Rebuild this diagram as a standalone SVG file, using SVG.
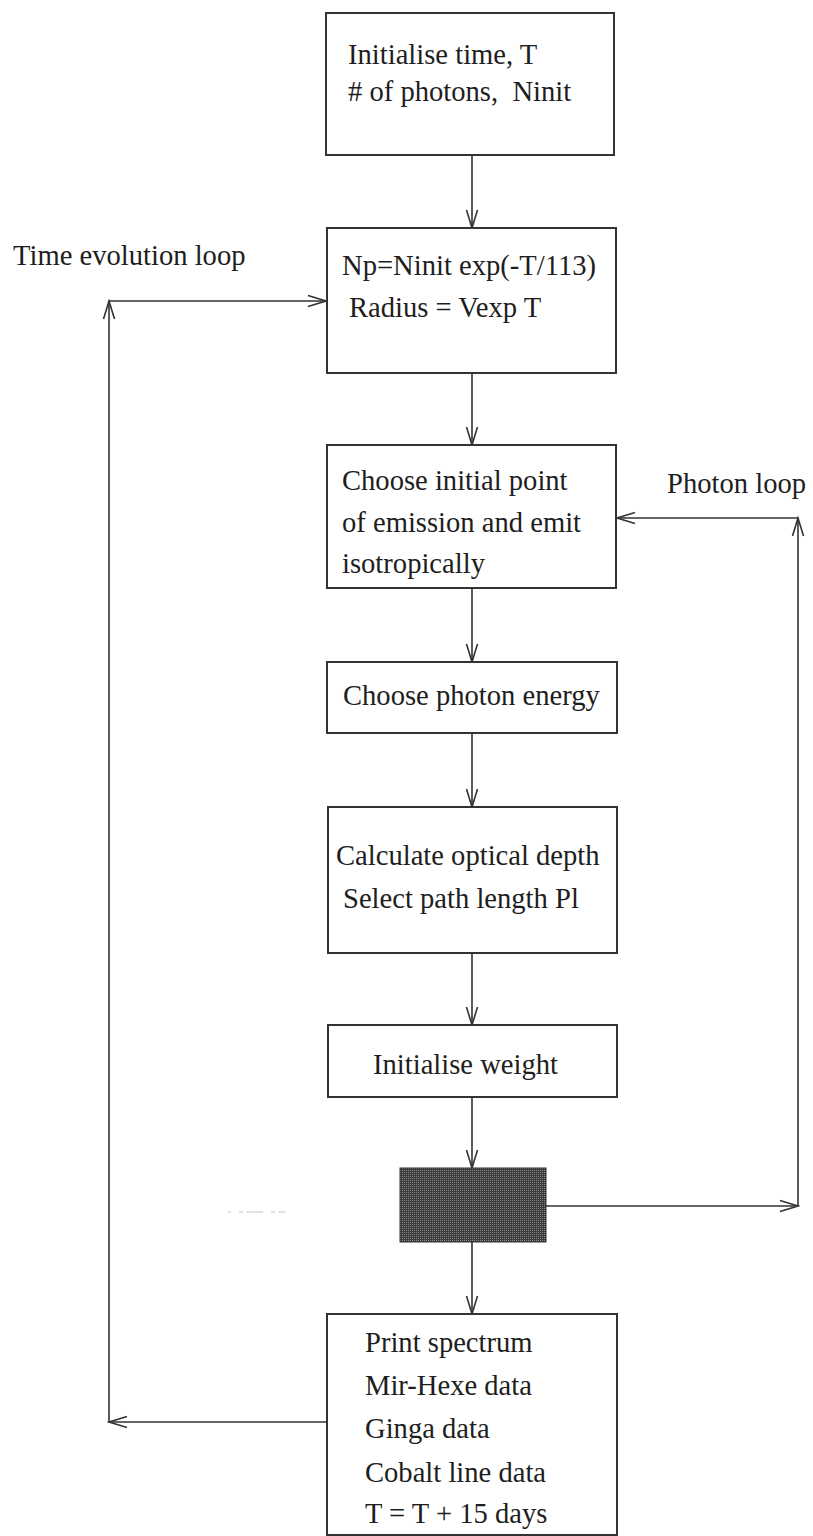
<svg xmlns="http://www.w3.org/2000/svg" width="813" height="1536" viewBox="0 0 813 1536">
<style>
  .box { fill: #ffffff; stroke: #333333; stroke-width: 2; }
  .t { font-family: "Liberation Serif", "Times New Roman", serif; font-size: 28.6px; fill: #1e1e1e; }
  .c { fill: none; stroke: #333333; stroke-width: 1.6; marker-end: url(#arr); }
  .p { fill: none; stroke: #333333; stroke-width: 1.6; }
</style>
<defs>
  <marker id="arr" viewBox="-20 -8 22 16" refX="0" refY="0" markerWidth="22" markerHeight="16" markerUnits="userSpaceOnUse" orient="auto">
    <path d="M-18,-5.5 L0,0 L-18,5.5" fill="none" stroke="#333333" stroke-width="1.6"/>
  </marker>
  <pattern id="dots" width="2" height="2" patternUnits="userSpaceOnUse">
    <rect width="2" height="2" fill="#3a3a3a"/>
    <rect width="1" height="1" fill="#8c8c8c"/>
  </pattern>
</defs>
<rect width="813" height="1536" fill="#ffffff"/>

<g id="connectors">
  <line class="c" x1="472" y1="155" x2="472" y2="228"/>
  <line class="c" x1="472" y1="373" x2="472" y2="445"/>
  <line class="c" x1="472" y1="588" x2="472" y2="662"/>
  <line class="c" x1="472" y1="733" x2="472" y2="807"/>
  <line class="c" x1="472" y1="953" x2="472" y2="1025"/>
  <line class="c" x1="472" y1="1097" x2="472" y2="1168"/>
  <line class="c" x1="472" y1="1242" x2="472" y2="1314"/>
  <line class="c" x1="546" y1="1206" x2="798" y2="1206"/>
  <line class="c" x1="798" y1="1206" x2="798" y2="518"/>
  <line class="c" x1="798" y1="518" x2="617" y2="518"/>
  <line class="c" x1="327" y1="1422" x2="109" y2="1422"/>
  <line class="c" x1="109" y1="1422" x2="109" y2="301"/>
  <line class="c" x1="109" y1="301" x2="326" y2="301"/>
</g>

<g id="label-time-loop"><text class="t" x="13" y="265">Time evolution loop</text></g>
<g id="label-photon-loop"><text class="t" x="667" y="493">Photon loop</text></g>

<g id="n1">
  <rect class="box" x="326" y="13" width="288" height="142"/>
  <text class="t" x="348" y="64">Initialise time, T</text>
  <text class="t" x="348" y="101" xml:space="preserve"># of photons,  Ninit</text>
</g>
<g id="n2">
  <rect class="box" x="327" y="228" width="289" height="145"/>
  <text class="t" x="342" y="275">Np=Ninit exp(-T/113)</text>
  <text class="t" x="349" y="317">Radius = Vexp T</text>
</g>
<g id="n3">
  <rect class="box" x="327" y="445" width="289" height="143"/>
  <text class="t" x="342" y="490">Choose initial point</text>
  <text class="t" x="342" y="532">of emission and emit</text>
  <text class="t" x="342" y="573">isotropically</text>
</g>
<g id="n4">
  <rect class="box" x="327" y="662" width="290" height="71"/>
  <text class="t" x="343" y="705">Choose photon energy</text>
</g>
<g id="n5">
  <rect class="box" x="328" y="807" width="289" height="146"/>
  <text class="t" x="336" y="865">Calculate optical depth</text>
  <text class="t" x="343" y="908">Select path length Pl</text>
</g>
<g id="n6">
  <rect class="box" x="328" y="1025" width="289" height="72"/>
  <text class="t" x="373" y="1074">Initialise weight</text>
</g>
<g id="n7">
  <rect x="400" y="1168" width="146" height="74" fill="url(#dots)" stroke="#333333" stroke-width="1"/>
</g>
<g id="n8">
  <rect class="box" x="327" y="1314" width="290" height="221"/>
  <text class="t" x="365" y="1352">Print spectrum</text>
  <text class="t" x="365" y="1395">Mir-Hexe data</text>
  <text class="t" x="365" y="1438">Ginga data</text>
  <text class="t" x="365" y="1482">Cobalt line data</text>
  <text class="t" x="365" y="1523">T = T + 15 days</text>
</g>
<line x1="228" y1="1212" x2="286" y2="1212" stroke="#c8c8c8" stroke-width="1.2" stroke-dasharray="3 8 4 3 14 0"/>
</svg>
